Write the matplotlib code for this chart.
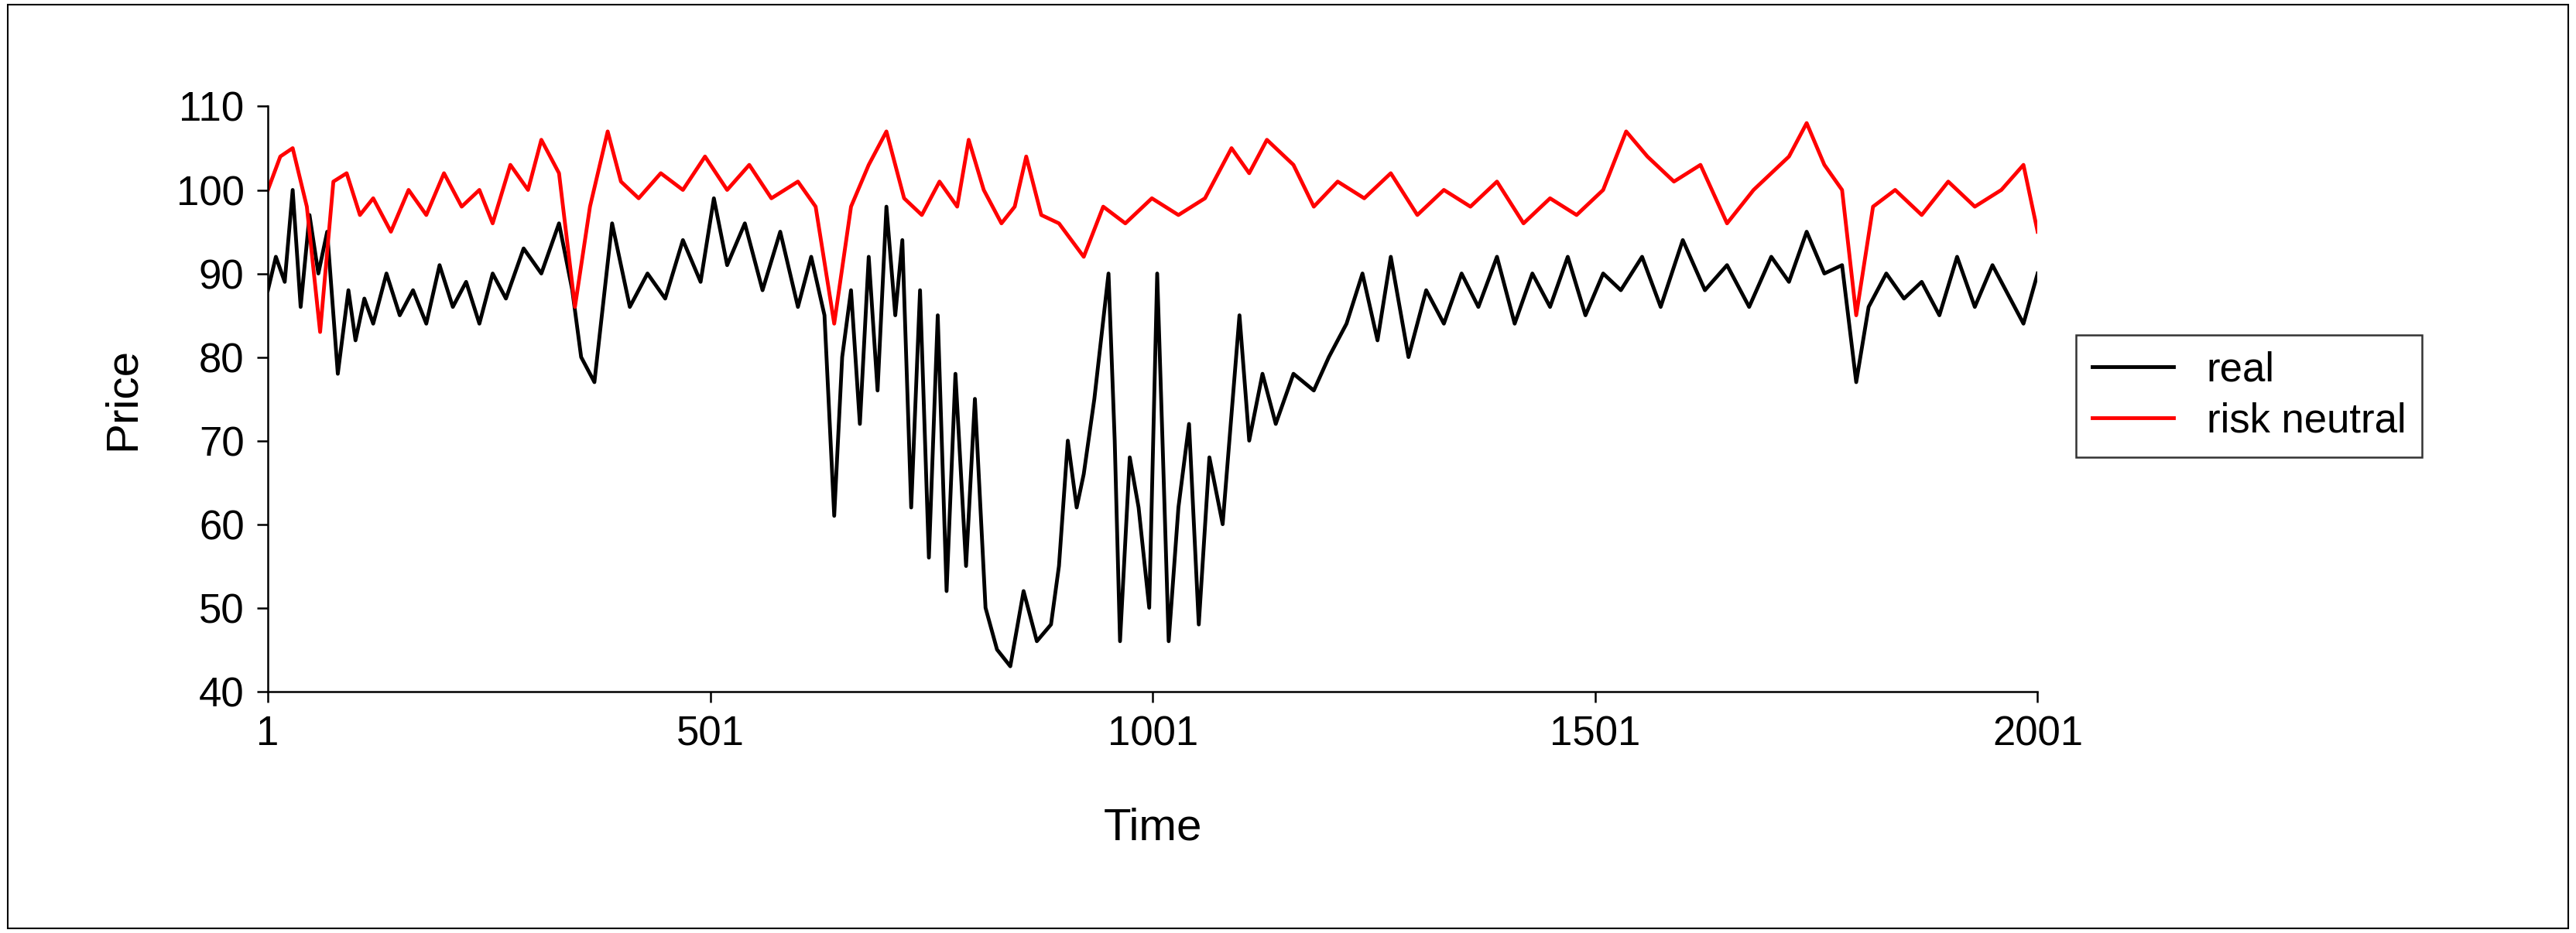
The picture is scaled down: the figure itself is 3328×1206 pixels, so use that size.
import matplotlib
matplotlib.use("Agg")
import matplotlib.pyplot as plt
from matplotlib.patches import Rectangle

plt.rcParams['font.family'] = ['Liberation Sans', 'DejaVu Sans']

real_t = [1, 10, 20, 29, 38, 48, 58, 68, 80, 92, 100, 110, 120, 135, 150, 165, 180, 195, 210, 225, 240, 255, 270, 290, 310, 330, 345, 355, 370, 390, 410, 430, 450, 470, 490, 505, 520, 540, 560, 580, 600, 615, 630, 641, 650, 660, 670, 680, 690, 700, 710, 718, 728, 738, 748, 758, 768, 778, 790, 800, 812, 825, 840, 855, 870, 886, 895, 905, 915, 923, 935, 951, 958, 964, 975, 985, 997, 1006, 1012, 1019, 1030, 1042, 1053, 1065, 1080, 1099, 1110, 1125, 1140, 1160, 1183, 1200, 1220, 1238, 1255, 1270, 1290, 1310, 1330, 1350, 1369, 1390, 1410, 1430, 1450, 1470, 1490, 1510, 1530, 1554, 1575, 1600, 1625, 1650, 1675, 1700, 1720, 1740, 1760, 1780, 1796, 1810, 1830, 1850, 1870, 1890, 1910, 1930, 1950, 1970, 1985, 2001]
real_v = [88, 92, 89, 100, 86, 97, 90, 95, 78, 88, 82, 87, 84, 90, 85, 88, 84, 91, 86, 89, 84, 90, 87, 93, 90, 96, 88, 80, 77, 96, 86, 90, 87, 94, 89, 99, 91, 96, 88, 95, 86, 92, 85, 61, 80, 88, 72, 92, 76, 98, 85, 94, 62, 88, 56, 85, 52, 78, 55, 75, 50, 45, 43, 52, 46, 48, 55, 70, 62, 66, 75, 90, 70, 46, 68, 62, 50, 90, 70, 46, 62, 72, 48, 68, 60, 85, 70, 78, 72, 78, 76, 80, 84, 90, 82, 92, 80, 88, 84, 90, 86, 92, 84, 90, 86, 92, 85, 90, 88, 92, 86, 94, 88, 91, 86, 92, 89, 95, 90, 91, 77, 86, 90, 87, 89, 85, 92, 86, 91, 87, 84, 90]

risk_t = [1, 15, 29, 45, 60, 75, 90, 105, 120, 140, 160, 180, 200, 220, 240, 255, 275, 295, 310, 330, 348, 365, 385, 400, 420, 445, 470, 495, 520, 545, 570, 600, 620, 641, 660, 680, 700, 720, 740, 760, 780, 793, 810, 830, 845, 858, 875, 895, 923, 945, 970, 1000, 1030, 1060, 1090, 1110, 1130, 1160, 1183, 1210, 1240, 1270, 1300, 1330, 1360, 1390, 1420, 1450, 1480, 1510, 1536, 1560, 1590, 1620, 1650, 1680, 1700, 1720, 1740, 1760, 1780, 1796, 1815, 1840, 1870, 1900, 1930, 1960, 1985, 2001]
risk_v = [100, 104, 105, 98, 83, 101, 102, 97, 99, 95, 100, 97, 102, 98, 100, 96, 103, 100, 106, 102, 86, 98, 107, 101, 99, 102, 100, 104, 100, 103, 99, 101, 98, 84, 98, 103, 107, 99, 97, 101, 98, 106, 100, 96, 98, 104, 97, 96, 92, 98, 96, 99, 97, 99, 105, 102, 106, 103, 98, 101, 99, 102, 97, 100, 98, 101, 96, 99, 97, 100, 107, 104, 101, 103, 96, 100, 102, 104, 108, 103, 100, 85, 98, 100, 97, 101, 98, 100, 103, 95]

x_ticks = [1, 501, 1001, 1501, 2001]
y_ticks = [40, 50, 60, 70, 80, 90, 100, 110]

fig = plt.figure(figsize=(33.28, 12.06), dpi=100)
fig.patches.append(Rectangle((0.003, 0.005), 0.994, 0.99, transform=fig.transFigure,
                             fill=False, edgecolor='black', linewidth=1.5))
ax = fig.add_axes([0.104, 0.259, 0.687, 0.627])
ax.plot(real_t, real_v, color='black', linewidth=3.5, label='real')
ax.plot(risk_t, risk_v, color='#ff0000', linewidth=3.5, label='risk neutral')
ax.set_xlim(1, 2001)
ax.set_ylim(40, 110)
ax.set_xticks(x_ticks)
ax.set_yticks(y_ticks)
ax.spines['top'].set_visible(False)
ax.spines['right'].set_visible(False)
ax.spines['left'].set_linewidth(1.8)
ax.spines['bottom'].set_linewidth(1.8)
ax.tick_params(labelsize=38, width=1.8, length=10, direction='out', pad=12)
ax.set_xlabel('Time', fontsize=42, labelpad=50)
ax.set_ylabel('Price', fontsize=42, labelpad=30)
leg = ax.legend(loc='center left', bbox_to_anchor=(1.01, 0.505), fontsize=38,
                frameon=True, fancybox=False, edgecolor='black', handlelength=2.0,
                borderpad=0.4, labelspacing=0.3)
leg.get_frame().set_linewidth(1.8)
fig.savefig('out.png', dpi=100)
